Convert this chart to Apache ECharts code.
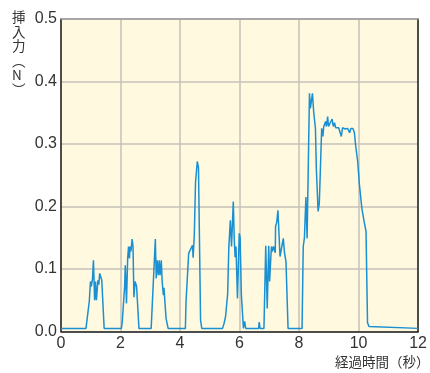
<!DOCTYPE html>
<html>
<head>
<meta charset="utf-8">
<script src="https://cdn.jsdelivr.net/npm/echarts@6/dist/echarts.min.js"></script>
<style>html,body{margin:0;padding:0;background:#fff;}#c{width:430px;height:373px;}</style>
</head>
<body>
<div id="c"></div>
<script>
const xTicks = [0, 2, 4, 6, 8, 10, 12];
const yTicks = [0.0, 0.1, 0.2, 0.3, 0.4, 0.5];
const yAxisName = '挿入力(N)';
const xAxisName = '経過時間（秒）';
const times = [
  0, 0.84, 0.86, 0.90, 0.95, 0.99, 1.02, 1.06, 1.09, 1.13, 1.16, 1.19, 1.24, 1.27, 1.30, 1.33, 1.37, 1.40, 1.45,
  2.03, 2.06, 2.10, 2.14, 2.16, 2.20, 2.24, 2.27, 2.30, 2.32, 2.35, 2.39, 2.42, 2.45, 2.49, 2.52, 2.54, 2.62,
  3.03, 3.17, 3.20, 3.23, 3.27, 3.30, 3.33, 3.37, 3.40, 3.44, 3.46, 3.53, 3.60,
  4.18, 4.20, 4.25, 4.29, 4.37, 4.42, 4.44, 4.48, 4.52, 4.58, 4.62, 4.69, 4.73,
  5.43, 5.48, 5.53, 5.60, 5.64, 5.69, 5.73, 5.79, 5.82, 5.85, 5.88, 5.93, 5.99, 6.02, 6.06, 6.13, 6.17, 6.21,
  6.64, 6.66, 6.69, 6.82, 6.88, 6.93, 6.98, 7.01, 7.07, 7.10, 7.14, 7.20, 7.21, 7.25, 7.29, 7.36, 7.40, 7.47, 7.51, 7.56, 7.63,
  8.10, 8.14, 8.18, 8.23, 8.27, 8.35, 8.38, 8.45, 8.49, 8.55, 8.58, 8.64, 8.68, 8.71, 8.76, 8.80, 8.83, 8.89, 8.92, 8.96, 8.99,
  9.04, 9.11, 9.15, 9.19, 9.23, 9.33, 9.38, 9.42, 9.46, 9.55, 9.63, 9.70, 9.74, 9.81, 9.86, 9.90, 9.97,
  10.03, 10.11, 10.19, 10.25, 10.30, 10.35, 10.40, 12
];
const forces = [
  0.005, 0.005, 0.013, 0.013, 0.048, 0.080, 0.072, 0.085, 0.114, 0.050, 0.080, 0.050, 0.082, 0.075, 0.093, 0.090, 0.082, 0.080, 0.005,
  0.005, 0.016, 0.017, 0.074, 0.106, 0.045, 0.117, 0.136, 0.117, 0.136, 0.128, 0.148, 0.136, 0.055, 0.080, 0.080, 0.072, 0.005,
  0.005, 0.148, 0.085, 0.114, 0.090, 0.114, 0.090, 0.114, 0.080, 0.058, 0.070, 0.021, 0.005,
  0.005, 0.046, 0.048, 0.125, 0.133, 0.138, 0.118, 0.155, 0.238, 0.272, 0.262, 0.018, 0.005,
  0.005, 0.013, 0.024, 0.060, 0.135, 0.178, 0.136, 0.208, 0.150, 0.119, 0.136, 0.053, 0.157, 0.150, 0.060, 0.005, 0.016, 0.005,
  0.005, 0.015, 0.005, 0.005, 0.137, 0.037, 0.137, 0.080, 0.136, 0.128, 0.136, 0.126, 0.168, 0.175, 0.194, 0.120, 0.118, 0.149, 0.126, 0.112, 0.005,
  0.005, 0.136, 0.150, 0.215, 0.149, 0.381, 0.357, 0.381, 0.352, 0.325, 0.261, 0.192, 0.205, 0.207, 0.325, 0.312, 0.328, 0.336, 0.328, 0.344, 0.328,
  0.330, 0.340, 0.328, 0.334, 0.326, 0.326, 0.324, 0.312, 0.326, 0.324, 0.325, 0.318, 0.325, 0.325, 0.318, 0.298, 0.272,
  0.234, 0.197, 0.175, 0.160, 0.014, 0.008, 0.005, 0.005
];
const seriesData = times.map((t, i) => [t, forces[i]]);

const chart = echarts.init(document.getElementById('c'), null, {renderer: 'canvas'});
const labelFont = {color: '#333', fontSize: 16, fontFamily: 'Liberation Sans, Arial, sans-serif'};
chart.setOption({
  animation: false,
  grid: {left: 61, right: 10, top: 19, bottom: 41.5, show: true, backgroundColor: '#fffadf', borderWidth: 0},
  xAxis: [{
    type: 'value', min: xTicks[0], max: xTicks[xTicks.length - 1], interval: 2, position: 'bottom',
    axisLine: {show: true, onZero: false, lineStyle: {color: '#222', width: 1.5}},
    axisTick: {show: false},
    splitLine: {show: true, lineStyle: {color: '#c4c0b8', width: 1.5}},
    axisLabel: Object.assign({margin: 4}, labelFont)
  }, {
    type: 'value', min: 0, max: 12, position: 'top',
    axisLine: {show: true, onZero: false, lineStyle: {color: '#999', width: 1.5}},
    axisTick: {show: false}, axisLabel: {show: false}, splitLine: {show: false}
  }],
  yAxis: [{
    type: 'value', min: yTicks[0], max: yTicks[yTicks.length - 1], interval: 0.1, position: 'left',
    axisLine: {show: true, onZero: false, lineStyle: {color: '#222', width: 1.5}},
    axisTick: {show: false},
    splitLine: {show: true, lineStyle: {color: '#c4c0b8', width: 1.5}},
    axisLabel: Object.assign({margin: 4, formatter: v => v.toFixed(1)}, labelFont)
  }, {
    type: 'value', min: 0, max: 0.5, position: 'right',
    axisLine: {show: true, onZero: false, lineStyle: {color: '#222', width: 1.5}},
    axisTick: {show: false}, axisLabel: {show: false}, splitLine: {show: false}
  }],
  graphic: [{
    type: 'text', left: 12, top: 10,
    style: {text: yAxisName.replace('(', '︵').replace(')', '︶').split('').join('\n'), fill: '#333', font: '13.5px "Noto Sans CJK JP"', lineHeight: 14.5, align: 'center', x: 0}
  }, {
    type: 'text', left: 335, top: 355,
    style: {text: xAxisName, fill: '#333', font: '13.5px "Noto Sans CJK JP"'}
  }],
  series: [{
    type: 'line', xAxisIndex: 0, yAxisIndex: 0, data: seriesData, showSymbol: false,
    lineStyle: {color: '#1a8fd2', width: 1.5}
  }]
});
</script>
</body>
</html>
